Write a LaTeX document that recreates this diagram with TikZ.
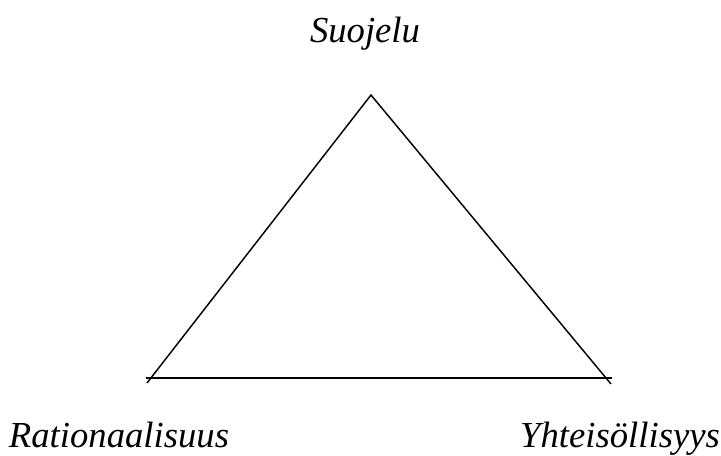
\documentclass[tikz,border=0pt]{standalone}
\usepackage{fontspec}
\setmainfont{Liberation Serif}
\begin{document}
\begin{tikzpicture}[x=0.75pt, y=-0.75pt, font=\fontsize{27.5}{33}\selectfont\itshape]
	\useasboundingbox (0,0) rectangle (721,455);
	\tikzset{
		side/.style={draw=black, line width=1.1pt},
		label/.style={inner sep=0pt, anchor=base}
	}
	\coordinate (top) at (371, 95);
	\coordinate (leftend) at (147, 383);
	\coordinate (rightend) at (611, 384);
	\coordinate (baseleft) at (146, 378);
	\coordinate (baseright) at (612, 378);
	\draw[side] (leftend) -- (top) -- (rightend);
	\draw[side] (baseleft) -- (baseright);
	\node[label] (suojelu) at (365, 42) {Suojelu};
	\node[label] (rationaalisuus) at (119, 447) {Rationaalisuus};
	\node[label] (yhteisollisyys) at (620, 447) {Yhteisöllisyys};
\end{tikzpicture}
\end{document}
